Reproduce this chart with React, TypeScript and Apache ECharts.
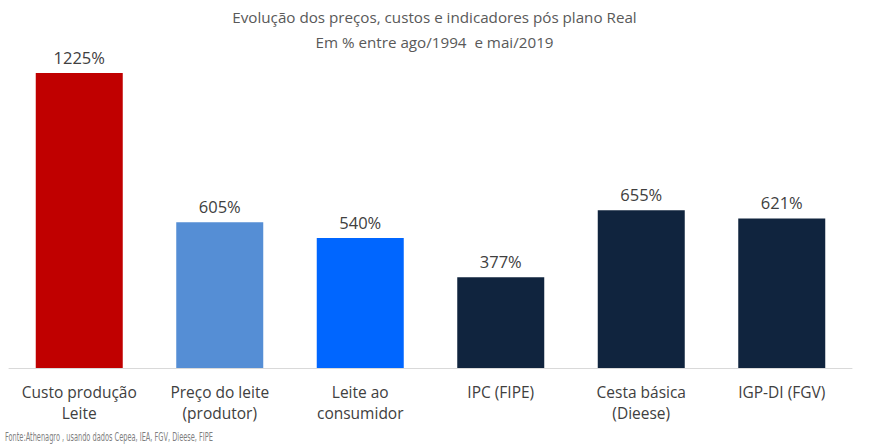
import React, { useEffect, useRef } from "react";
import * as echarts from "echarts";

const categories = [
  "Custo produção\nLeite",
  "Preço do leite\n(produtor)",
  "Leite ao\nconsumidor",
  "IPC (FIPE)",
  "Cesta básica\n(Dieese)",
  "IGP-DI (FGV)",
];
const values = [1225, 605, 540, 377, 655, 621];
const barColors = ["#C00000", "#558ED5", "#0066FF", "#10243E", "#10243E", "#10243E"];
const titleLines = ["Evolução dos preços, custos e indicadores pós plano Real", "Em % entre ago/1994  e mai/2019"];
const footer = "Fonte:Athenagro , usando dados Cepea, IEA, FGV, Dieese, FIPE";

const FONT = "'Open Sans', 'Liberation Sans', sans-serif";

export default function App() {
  const ref = useRef<HTMLDivElement>(null);
  useEffect(() => {
    if (!ref.current) return;
    const chart = echarts.init(ref.current, null, { renderer: "svg" });
    chart.setOption({
      animation: false,
      backgroundColor: "#ffffff",
      title: {
        text: titleLines.join("\n"),
        left: "center",
        top: -1,
        textStyle: {
          fontFamily: FONT,
          fontSize: 15.2,
          fontWeight: "normal",
          color: "#595959",
          lineHeight: 25,
        },
      },
      graphic: [
        {
          type: "text",
          x: 5,
          y: 431,
          scaleX: 0.64,
          style: {
            text: footer,
            fontFamily: "'DejaVu Sans Condensed', 'Liberation Sans Narrow', sans-serif",
            fontSize: 11.5,
            fill: "#7F7F7F",
          },
        },
      ],
      grid: { left: 9, right: 17, top: 73, bottom: 80, containLabel: false },
      xAxis: {
        type: "category",
        data: categories,
        axisLine: { lineStyle: { color: "#D9D9D9", width: 1 } },
        axisTick: { show: false },
        axisLabel: {
          fontFamily: FONT,
          fontSize: 15.5,
          color: "#404040",
          lineHeight: 21,
          margin: 13,
          interval: 0,
        },
      },
      yAxis: {
        type: "value",
        min: 0,
        max: 1225,
        show: false,
        splitLine: { show: false },
      },
      series: [
        {
          type: "bar",
          barWidth: 87,
          data: values.map((v, i) => ({ value: v, itemStyle: { color: barColors[i] } })),
          label: {
            show: true,
            position: "top",
            distance: 7,
            formatter: "{c}%",
            fontFamily: FONT,
            fontSize: 16.5,
            color: "#404040",
          },
        },
      ],
    });
    return () => chart.dispose();
  }, []);
  return (
    <div
      ref={ref}
      style={{ position: "absolute", left: 0, top: 0, width: 869, height: 448 }}
    />
  );
}
